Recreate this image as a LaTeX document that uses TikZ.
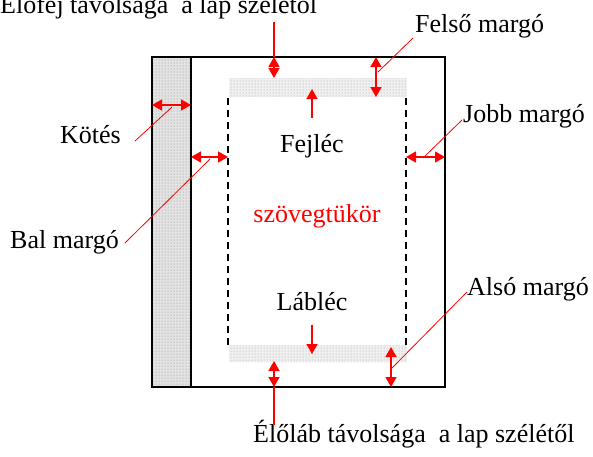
\documentclass[tikz,border=0pt]{standalone}
\usepackage{fontspec}
\setmainfont{Liberation Serif}
\usetikzlibrary{arrows.meta,patterns}
\begin{document}
\begin{tikzpicture}[x=1pt,y=-1pt,
  lbl/.style={font=\fontsize{26}{30}\selectfont, inner sep=0pt},
  dim/.style={red, line width=1.6pt, {Triangle[length=10pt,width=11pt]}-{Triangle[length=10pt,width=11pt]}},
  ptr/.style={red, line width=1.6pt, -{Triangle[length=10pt,width=11pt]}},
  lead/.style={red, line width=0.8pt},
  band/.style={preaction={fill=gray!12}, pattern=dots, pattern color=gray!75},
  strip/.style={preaction={fill=gray!22}, pattern=dots, pattern color=gray!90}
]
\useasboundingbox (0,0) rectangle (593,456);

% ===== page + binding strip =====
\path[strip] (152,57) rectangle (191,387);
\path[band] (229,78) rectangle (407,97);   % header band
\path[band] (229,345) rectangle (407,362); % footer band
\draw[line width=1.6pt] (152,57) rectangle (445,387);
\draw[line width=1.6pt] (191,57) -- (191,387);

% ---- text area (dashed sides only) ----
\draw[line width=1.5pt, dash pattern=on 7pt off 5pt] (228,98) -- (228,345);
\draw[line width=1.5pt, dash pattern=on 7pt off 5pt] (406,98) -- (406,345);

% ===== labels =====
\node[lbl, anchor=base west] (elofej) at (0,13)    {Élőfej távolsága\ \ a lap szélétől};
\node[lbl, anchor=base west] (felso)  at (415,32)  {Felső margó};
\node[lbl, anchor=base east] (kotes)  at (121,143) {Kötés};
\node[lbl, anchor=base west] (jobb)   at (463,122) {Jobb margó};
\node[lbl, anchor=base]      (fejlec) at (312,152) {Fejléc};
\node[lbl, anchor=base, red] (tukor)  at (317,222) {szövegtükör};
\node[lbl, anchor=base west] (bal)    at (10,248)  {Bal margó};
\node[lbl, anchor=base west] (also)   at (467,295) {Alsó margó};
\node[lbl, anchor=base]      (lablec) at (312,310) {Lábléc};
\node[lbl, anchor=base west] (elolab) at (253,442) {Élőláb távolsága\ \ a lap szélétől};

% ===== arrow end points =====
\coordinate (efA) at (274,22);  \coordinate (efB) at (274,57);  \coordinate (efC) at (274,78);
\coordinate (fmA) at (376,57);  \coordinate (fmB) at (376,97);  \coordinate (fmL) at (378,72);
\coordinate (fjA) at (312,118); \coordinate (fjB) at (312,89);
\coordinate (lbA) at (312,325); \coordinate (lbB) at (312,354);
\coordinate (ktA) at (152,105); \coordinate (ktB) at (191,105); \coordinate (ktL) at (172,107);
\coordinate (bmA) at (191,157); \coordinate (bmB) at (228,157); \coordinate (bmL) at (210,159);
\coordinate (jmA) at (406,157); \coordinate (jmB) at (445,157); \coordinate (jmL) at (423,158);
\coordinate (elA) at (274,361); \coordinate (elB) at (274,387); \coordinate (elC) at (274,425);
\coordinate (amA) at (391,347); \coordinate (amB) at (391,387); \coordinate (amL) at (392,368);

% ===== header side =====
\draw[red, line width=1.6pt] (efA) -- (efB);
\draw[dim] (efB) -- (efC);
\draw[dim] (fmA) -- (fmB);
\draw[lead] ([xshift=-2pt,yshift=-6pt]felso.base west) -- (fmL);
\draw[ptr] (fjA) -- (fjB);

% ===== left / right margins =====
\draw[dim] (ktA) -- (ktB);
\draw[lead] ([xshift=14pt,yshift=2pt]kotes.base east) -- (ktL);
\draw[dim] (bmA) -- (bmB);
\draw[lead] ([xshift=6pt,yshift=5pt]bal.base east) -- (bmL);
\draw[dim] (jmA) -- (jmB);
\draw[lead] ([xshift=-1pt,yshift=2pt]jobb.base west) -- (jmL);

% ===== footer side =====
\draw[ptr] (lbA) -- (lbB);
\draw[dim] (elA) -- (elB);
\draw[red, line width=1.6pt] (elB) -- (elC);
\draw[dim] (amA) -- (amB);
\draw[lead] ([yshift=3pt]also.base west) -- (amL);

\end{tikzpicture}
\end{document}
